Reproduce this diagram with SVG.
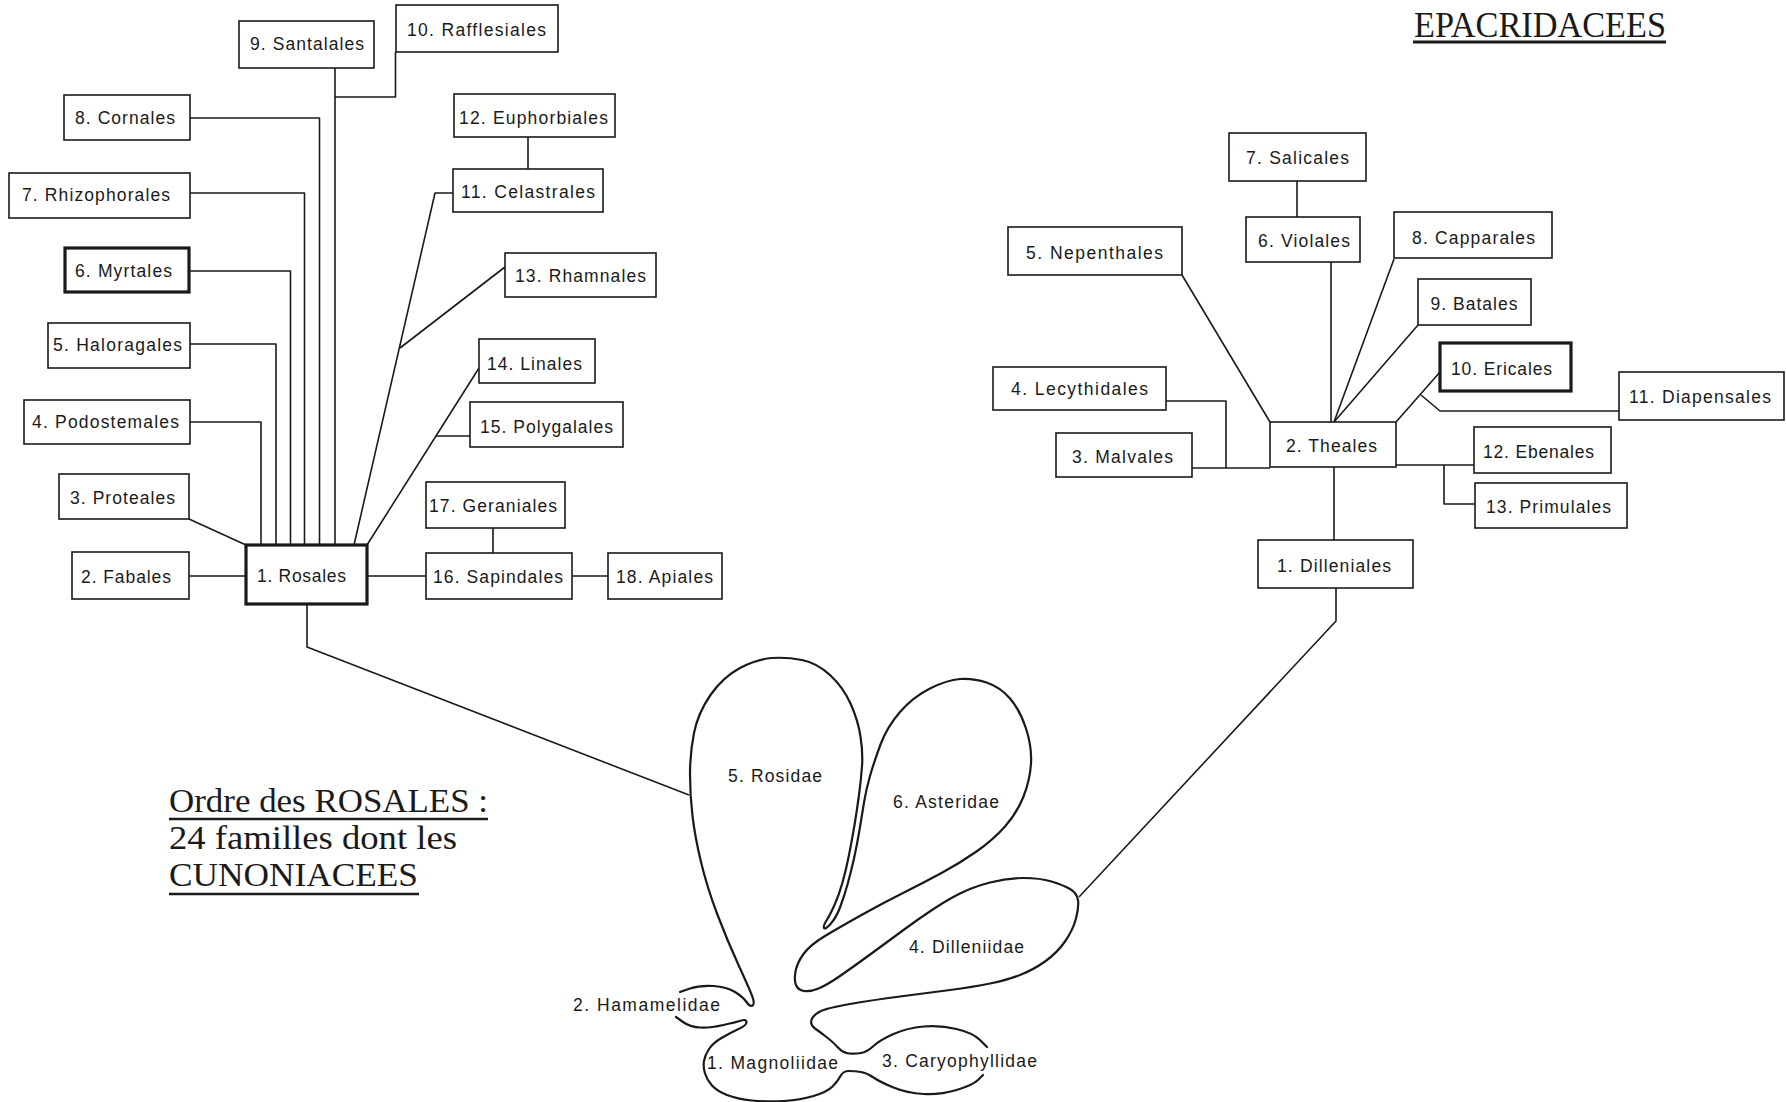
<svg xmlns="http://www.w3.org/2000/svg" width="1786" height="1102" viewBox="0 0 1786 1102">
<style>
.b{fill:#fff;stroke:#1a1a1a;stroke-width:1.6}
.bb{fill:#fff;stroke:#1a1a1a;stroke-width:3.2}
.t{font-family:"Liberation Sans",Arial,sans-serif;font-size:17.5px;fill:#1a1a1a;text-anchor:middle}
.s{font-family:"Liberation Serif","Times New Roman",serif;font-size:33px;fill:#1a1a1a}
.c path{fill:none;stroke:#1a1a1a;stroke-width:1.6;stroke-linejoin:round}
.blob{fill:none;stroke:#1a1a1a;stroke-width:2.2;stroke-linecap:round;stroke-linejoin:round}
.u{stroke:#1a1a1a;stroke-width:2.4}
</style>
<rect width="1786" height="1102" fill="#fff"/>
<g id="connectors" class="c">
<path d="M189 576H246"/>
<path d="M189 519L246 545"/>
<path d="M190 422H261V545"/>
<path d="M190 344H276V545"/>
<path d="M189 271H290.5V545"/>
<path d="M190 193H304.5V545"/>
<path d="M190 118H319.5V545"/>
<path d="M335 68V545"/>
<path d="M395.5 52V97H335"/>
<path d="M453 193H435L354 545"/>
<path d="M400 348L505 267"/>
<path d="M528 137V169"/>
<path d="M367 545L479 368"/>
<path d="M435.6 436H470"/>
<path d="M367 576H426"/>
<path d="M493 528V553"/>
<path d="M572 576H608"/>
<path d="M307 604V647L689 795"/>
<path d="M1336 588V621L1079 897"/>
<path d="M1334 467V540"/>
<path d="M1192 468H1270"/>
<path d="M1166 401H1226V468"/>
<path d="M1182 275L1270 422"/>
<path d="M1331 262V422"/>
<path d="M1297 181V217"/>
<path d="M1394 259L1334 422"/>
<path d="M1418 325L1334 422"/>
<path d="M1396 422L1440 372"/>
<path d="M1421 395L1440 411H1619"/>
<path d="M1396 465H1474"/>
<path d="M1444 465V504H1475"/>
</g>
<g id="rosales">
<rect class="bb" x="246" y="545" width="121" height="59"/><text class="t" x="301.5" y="582" textLength="89" lengthAdjust="spacing">1. Rosales</text></g>
<g id="fabales"><rect class="b" x="72" y="552" width="117" height="47"/><text class="t" x="126" y="583" textLength="90" lengthAdjust="spacing">2. Fabales</text></g>
<g id="proteales"><rect class="b" x="59" y="474" width="130" height="45"/><text class="t" x="122.5" y="504" textLength="105" lengthAdjust="spacing">3. Proteales</text></g>
<g id="podostemales"><rect class="b" x="24" y="400" width="166" height="44"/><text class="t" x="105.5" y="428" textLength="147" lengthAdjust="spacing">4. Podostemales</text></g>
<g id="haloragales"><rect class="b" x="48" y="323" width="142" height="45"/><text class="t" x="117.5" y="351" textLength="129" lengthAdjust="spacing">5. Haloragales</text></g>
<g id="myrtales"><rect class="bb" x="65" y="248" width="124" height="44"/><text class="t" x="123.5" y="277" textLength="97" lengthAdjust="spacing">6. Myrtales</text></g>
<g id="rhizophorales"><rect class="b" x="9" y="173" width="181" height="45"/><text class="t" x="96" y="201" textLength="148" lengthAdjust="spacing">7. Rhizophorales</text></g>
<g id="cornales"><rect class="b" x="64" y="95" width="126" height="45"/><text class="t" x="125" y="124" textLength="100" lengthAdjust="spacing">8. Cornales</text></g>
<g id="santalales"><rect class="b" x="239" y="21" width="135" height="47"/><text class="t" x="307" y="50" textLength="114" lengthAdjust="spacing">9. Santalales</text></g>
<g id="rafflesiales"><rect class="b" x="396" y="5" width="162" height="47"/><text class="t" x="476.5" y="36" textLength="139" lengthAdjust="spacing">10. Rafflesiales</text></g>
<g id="celastrales"><rect class="b" x="453" y="169" width="150" height="43"/><text class="t" x="528" y="198" textLength="134" lengthAdjust="spacing">11. Celastrales</text></g>
<g id="euphorbiales"><rect class="b" x="454" y="94" width="161" height="43"/><text class="t" x="533.5" y="124" textLength="149" lengthAdjust="spacing">12. Euphorbiales</text></g>
<g id="rhamnales"><rect class="b" x="505" y="253" width="151" height="44"/><text class="t" x="580.5" y="282" textLength="131" lengthAdjust="spacing">13. Rhamnales</text></g>
<g id="linales"><rect class="b" x="479" y="339" width="116" height="44"/><text class="t" x="534.5" y="370" textLength="95" lengthAdjust="spacing">14. Linales</text></g>
<g id="polygalales"><rect class="b" x="470" y="402" width="153" height="45"/><text class="t" x="546.5" y="433" textLength="133" lengthAdjust="spacing">15. Polygalales</text></g>
<g id="sapindales"><rect class="b" x="426" y="553" width="146" height="46"/><text class="t" x="498" y="583" textLength="130" lengthAdjust="spacing">16. Sapindales</text></g>
<g id="geraniales"><rect class="b" x="426" y="482" width="139" height="46"/><text class="t" x="493" y="512" textLength="128" lengthAdjust="spacing">17. Geraniales</text></g>
<g id="apiales"><rect class="b" x="608" y="553" width="114" height="46"/><text class="t" x="664.5" y="583" textLength="97" lengthAdjust="spacing">18. Apiales</text></g>

<g id="dilleniales"><rect class="b" x="1258" y="540" width="155" height="48"/><text class="t" x="1334" y="572" textLength="114" lengthAdjust="spacing">1. Dilleniales</text></g>
<g id="theales"><rect class="b" x="1270" y="422" width="126" height="45"/><text class="t" x="1331.5" y="452" textLength="91" lengthAdjust="spacing">2. Theales</text></g>
<g id="malvales"><rect class="b" x="1056" y="433" width="136" height="44"/><text class="t" x="1122.5" y="463" textLength="101" lengthAdjust="spacing">3. Malvales</text></g>
<g id="lecythidales"><rect class="b" x="993" y="367" width="173" height="43"/><text class="t" x="1079.5" y="395" textLength="137" lengthAdjust="spacing">4. Lecythidales</text></g>
<g id="nepenthales"><rect class="b" x="1008" y="227" width="174" height="48"/><text class="t" x="1094.5" y="259" textLength="137" lengthAdjust="spacing">5. Nepenthales</text></g>
<g id="violales"><rect class="b" x="1246" y="217" width="114" height="45"/><text class="t" x="1304" y="247" textLength="92" lengthAdjust="spacing">6. Violales</text></g>
<g id="salicales"><rect class="b" x="1229" y="133" width="137" height="48"/><text class="t" x="1297.5" y="164" textLength="103" lengthAdjust="spacing">7. Salicales</text></g>
<g id="capparales"><rect class="b" x="1394" y="212" width="158" height="46"/><text class="t" x="1473.5" y="244" textLength="123" lengthAdjust="spacing">8. Capparales</text></g>
<g id="batales"><rect class="b" x="1418" y="279" width="113" height="46"/><text class="t" x="1474" y="310" textLength="87" lengthAdjust="spacing">9. Batales</text></g>
<g id="ericales"><rect class="bb" x="1440" y="343" width="131" height="48"/><text class="t" x="1501.5" y="375" textLength="101" lengthAdjust="spacing">10. Ericales</text></g>
<g id="diapensales"><rect class="b" x="1619" y="372" width="165" height="48"/><text class="t" x="1700" y="403" textLength="142" lengthAdjust="spacing">11. Diapensales</text></g>
<g id="ebenales"><rect class="b" x="1474" y="427" width="137" height="46"/><text class="t" x="1538.5" y="458" textLength="111" lengthAdjust="spacing">12. Ebenales</text></g>
<g id="primulales"><rect class="b" x="1475" y="483" width="152" height="45"/><text class="t" x="1548.5" y="513" textLength="125" lengthAdjust="spacing">13. Primulales</text></g>

<g id="subclasses">
<path class="blob" d="M680 992 L690 988.5 Q700 985 713.5 986 Q727 987 735 992 Q743 997 746.5 1002 Q750 1007 752.5 1005.5 Q755 1004 752.5 997 Q750 990 738.5 965 Q727 940 717 913.5 Q707 887 701 862 Q695 837 692.5 816 Q690 795 690 774 Q690 753 694 733 Q698 713 710.5 695 Q723 677 740 668 Q757 659 772 658 Q787 657 802 660 Q817 663 830 675 Q843 687 850.5 703.5 Q858 720 860.5 736.5 Q863 753 862 766.5 Q861 780 859 795 Q857 810 854.5 825 Q852 840 849 855 Q846 870 842.5 882.5 Q839 895 834.5 905 Q830 915 826.5 920.5 Q823 926 824 928 Q825 930 830.5 924 Q836 918 840 907.5 Q844 897 847.5 884.5 Q851 872 854 858.5 Q857 845 859.5 830 Q862 815 864 802.5 Q866 790 870 776 Q874 762 880.5 744.5 Q887 727 900 712 Q913 697 930 688.5 Q947 680 960 679 Q973 678 986.5 682.5 Q1000 687 1010 698.5 Q1020 710 1026 728.5 Q1032 747 1031 763.5 Q1030 780 1023.5 796.5 Q1017 813 1005 826.5 Q993 840 976.5 851.5 Q960 863 941.5 873 Q923 883 903 893 Q883 903 861.5 915 Q840 927 825 936 Q810 945 803.5 954 Q797 963 795.5 971.5 Q794 980 796 985 Q798 990 804 991 Q810 992 818.5 988.5 Q827 985 840 976 Q853 967 871.5 953.5 Q890 940 903.5 930 Q917 920 932 910 Q947 900 960 893.5 Q973 887 990 882.5 Q1007 878 1023.5 878 Q1040 878 1051.5 881.5 Q1063 885 1070 889 Q1077 893 1078 900 Q1079 907 1076 918.5 Q1073 930 1065 941.5 Q1057 953 1045 961.5 Q1033 970 1020 975 Q1007 980 990 983.5 Q973 987 950 990 Q927 993 900 996.5 Q873 1000 850 1004 Q827 1008 820 1011.5 Q813 1015 811.5 1020 Q810 1025 815 1028.5 Q820 1032 826.5 1037 Q833 1042 838 1047.5 Q843 1053 849 1053.5 Q855 1054 861 1053 Q867 1052 873.5 1046 Q880 1040 893.5 1034 Q907 1028 923.5 1026.5 Q940 1025 956.5 1029 Q973 1033 980 1040 L987 1047"/>
<path class="blob" d="M676 1017 L683 1022 Q690 1027 700 1027.5 Q710 1028 723.5 1025 Q737 1022 741.5 1020.5 Q746 1019 746.5 1022 Q747 1025 738.5 1029 Q730 1033 721.5 1038 Q713 1043 709 1049 Q705 1055 704 1061 Q703 1067 705 1073.5 Q707 1080 712 1085.5 Q717 1091 727 1095 Q737 1099 752 1100.5 Q767 1102 783.5 1101 Q800 1100 813.5 1096 Q827 1092 832.5 1086.5 Q838 1081 840.5 1076 Q843 1071 849 1071 Q855 1071 861 1072 Q867 1073 873.5 1077.5 Q880 1082 893.5 1087.5 Q907 1093 923.5 1094 Q940 1095 956.5 1090 Q973 1085 978 1080 L983 1075"/>
<text class="t" x="775" y="782" textLength="94" lengthAdjust="spacing">5. Rosidae</text>
<text class="t" x="946" y="808" textLength="106" lengthAdjust="spacing">6. Asteridae</text>
<text class="t" x="966.5" y="953" textLength="115" lengthAdjust="spacing">4. Dilleniidae</text>
<text class="t" x="772.5" y="1069" textLength="131" lengthAdjust="spacing">1. Magnoliidae</text>
<text class="t" x="959.5" y="1067" textLength="155" lengthAdjust="spacing">3. Caryophyllidae</text>
<text class="t" x="646.5" y="1011" textLength="147" lengthAdjust="spacing">2. Hamamelidae</text>
</g>

<g id="notes">
<text class="s" x="169" y="812" textLength="319" lengthAdjust="spacingAndGlyphs">Ordre des ROSALES :</text>
<line class="u" x1="169" y1="819" x2="488" y2="819"/>
<text class="s" x="169" y="849" textLength="288" lengthAdjust="spacingAndGlyphs">24 familles dont les</text>
<text class="s" x="169" y="886" textLength="249" lengthAdjust="spacingAndGlyphs">CUNONIACEES</text>
<line class="u" x1="169" y1="894" x2="419" y2="894"/>
<text class="s" x="1414" y="37" style="font-size:35px" textLength="252" lengthAdjust="spacingAndGlyphs">EPACRIDACEES</text>
<line class="u" x1="1413" y1="42" x2="1666" y2="42" style="stroke-width:3"/>
</g>
</svg>
